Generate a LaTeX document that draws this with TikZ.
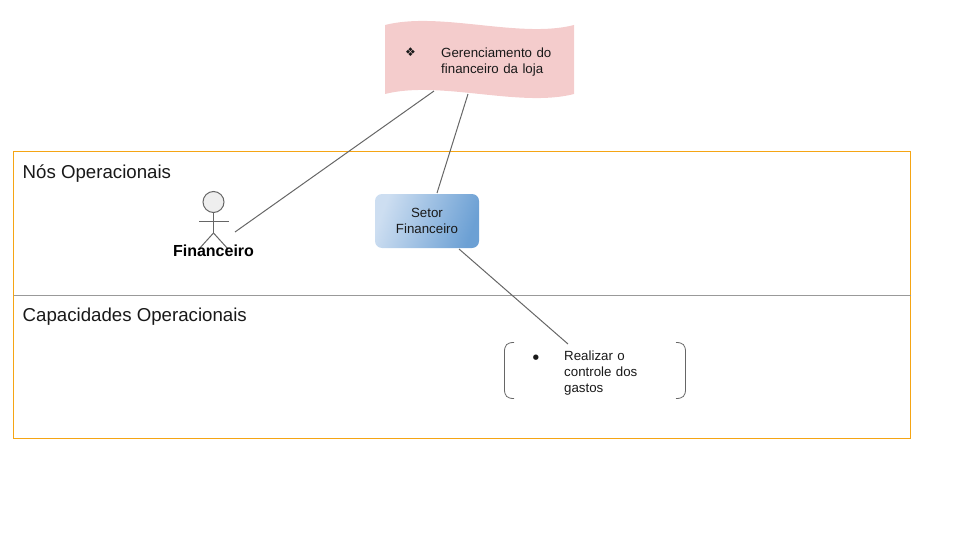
\documentclass[tikz,border=0pt]{standalone}
\usepackage{fontspec}
\setmainfont{Liberation Sans}
\newfontfamily\symfont{DejaVu Sans}
\definecolor{wavepink}{RGB}{244,204,204}
\definecolor{headgrey}{RGB}{238,238,238}
\definecolor{boxlight}{RGB}{205,222,241}
\definecolor{boxdark}{RGB}{108,160,212}
\definecolor{lanegold}{RGB}{245,165,20}
\begin{document}
\begin{tikzpicture}[x=1pt,y=-1pt,
  txt/.style={inner sep=0pt,align=left,font=\fontsize{13.3}{16}\selectfont,text=black!90},
  ttl/.style={inner sep=0pt,anchor=base west,font=\fontsize{18.67}{22}\selectfont,text=black!90},
  lane/.style={draw=lanegold,line width=0.8pt},
  conn/.style={draw=black!60,line width=1pt},
  part/.style={draw=black!60,line width=1pt}]
\useasboundingbox (0,0) rectangle (960,540);
% lanes
\draw[lane] (13.5,151.5) rectangle (910.5,438.5);
\draw[draw=black!40,line width=0.8pt] (13.5,295.5) -- (910.5,295.5);
\node[ttl] (t1) at (22.5,178.5) {Nós Operacionais};
\node[ttl] (t2) at (22.5,321.5) {Capacidades Operacionais};
% wave
\fill[wavepink]
  (385,25) .. controls (440,11) and (520,39) .. (574,25) -- (574,94)
  .. controls (520,108) and (440,80) .. (385,94) -- cycle;
\node[txt,anchor=base] (goalbullet) at (410.5,57) {\symfont\fontsize{12}{14}\selectfont ❖};
\node[txt,anchor=north west,text width=125pt] (goal) at (441,47.5) {Gerenciamento do\\financeiro da loja};
% actor
\draw[part,fill=headgrey] (213.5,202) circle (10.5);
\draw[part] (213.5,212.5) -- (213.5,233);
\draw[part] (199,221.5) -- (228.5,221.5);
\draw[part] (213.5,233) -- (199,249);
\draw[part] (213.5,233) -- (228,249);
\node[inner sep=0pt,anchor=base,font=\fontsize{16}{18}\selectfont\bfseries] (fin) at (213.5,256) {Financeiro};
% setor
\node[inner sep=0pt,minimum width=104pt,minimum height=54pt,rounded corners=7pt,
  left color=boxlight,right color=boxdark,shading angle=70,
  align=center,font=\fontsize{13.3}{16}\selectfont,text=black!90] (setor) at (427,221) {Setor\\Financeiro};
% bubble
\draw[part,line width=0.8pt] (514,342.5) .. controls (507,342.5) and (504.5,345) .. (504.5,352) -- (504.5,389) .. controls (504.5,396) and (507,398.5) .. (514,398.5);
\draw[part,line width=0.8pt] (676,342.5) .. controls (683,342.5) and (685.5,345) .. (685.5,352) -- (685.5,389) .. controls (685.5,396) and (683,398.5) .. (676,398.5);
\node[txt,anchor=base] (capbullet) at (536,359) {\symfont\fontsize{7}{9}\selectfont ●};
\node[txt,anchor=north west,text width=100pt] (cap) at (564,351) {Realizar o\\controle dos\\gastos};
% connectors
\coordinate (c1a) at (434,91);
\coordinate (c1b) at (235,232);
\coordinate (c2a) at (468,94);
\coordinate (c2b) at (437,193);
\coordinate (c3a) at (459,249);
\coordinate (c3b) at (568,344);
\draw[conn] (c1a) -- (c1b);
\draw[conn] (c2a) -- (c2b);
\draw[conn] (c3a) -- (c3b);
\end{tikzpicture}
\end{document}
